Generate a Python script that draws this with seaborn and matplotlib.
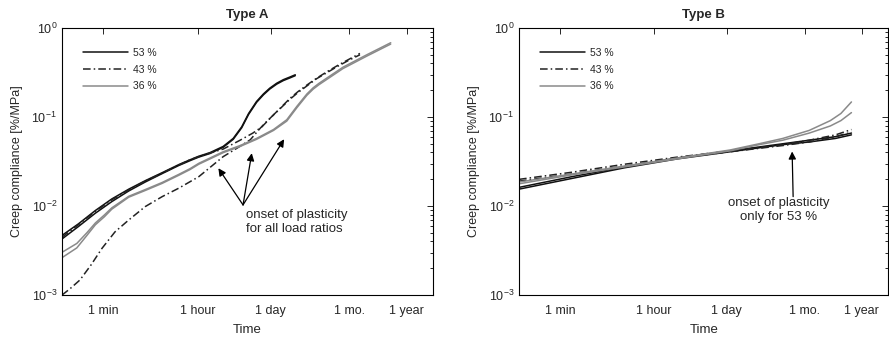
import numpy as np
import matplotlib
matplotlib.use('Agg')
import matplotlib.pyplot as plt
from matplotlib.ticker import NullLocator
import seaborn as sns

# time axis ticks (seconds) and labels
tick_seconds = [60, 3600, 86400, 2.592e6, 3.1536e7]
tick_labels = ['1 min', '1 hour', '1 day', '1 mo.', '1 year']

# ---- Type A, log10(time [s]) and log10(compliance [%/MPa]), two specimens per ratio
a53_t = [1.0, 1.31, 1.63, 1.94, 2.26, 2.57, 2.89, 3.2, 3.415, 3.58, 3.79, 4.04, 4.23, 4.39,
         4.52, 4.67, 4.8, 4.92, 5.05, 5.175, 5.3, 5.40]
a53_c1 = [-2.33, -2.20, -2.05, -1.92, -1.81, -1.715, -1.625, -1.535, -1.48, -1.44, -1.40, -1.33,
          -1.24, -1.11, -0.96, -0.825, -0.74, -0.675, -0.62, -0.58, -0.55, -0.525]
a53_c2 = [-2.37, -2.23, -2.08, -1.95, -1.83, -1.73, -1.635, -1.545, -1.49, -1.45, -1.41, -1.34,
          -1.25, -1.12, -0.97, -0.835, -0.75, -0.685, -0.63, -0.59, -0.56, -0.535]

a43_t1 = [1.0, 1.31, 1.63, 1.94, 2.26, 2.57, 2.89, 3.2, 3.415, 3.7, 4.04, 4.36, 4.6, 4.77,
          4.99, 5.15, 5.30, 5.45, 5.62, 5.8, 6.0, 6.2, 6.4, 6.62]
a43_c1 = [-2.35, -2.21, -2.06, -1.93, -1.82, -1.72, -1.63, -1.54, -1.48, -1.42, -1.36, -1.26,
          -1.18, -1.11, -0.975, -0.88, -0.79, -0.715, -0.64, -0.565, -0.49, -0.42, -0.355, -0.285]
a43_t2 = [1.0, 1.15, 1.34, 1.55, 1.755, 2.0, 2.26, 2.57, 2.89, 3.2, 3.58, 4.04, 4.3, 4.55,
          4.74, 4.86, 5.0, 5.15, 5.30, 5.45, 5.62, 5.8, 6.0, 6.2, 6.4, 6.62]
a43_c2 = [-3.0, -2.93, -2.83, -2.66, -2.475, -2.29, -2.156, -2.006, -1.894, -1.80, -1.67, -1.445,
          -1.35, -1.256, -1.125, -1.05, -0.97, -0.885, -0.80, -0.725, -0.65, -0.57, -0.50, -0.43,
          -0.365, -0.30]

a36_t = [1.0, 1.28, 1.47, 1.63, 1.8, 1.94, 2.26, 2.57, 2.89, 3.2, 3.415, 3.58, 4.04, 4.36,
         4.67, 4.99, 5.24, 5.43, 5.62, 5.74, 5.85, 6.0, 6.3, 6.75, 7.2]
a36_c1 = [-2.52, -2.42, -2.30, -2.19, -2.10, -2.02, -1.89, -1.815, -1.735, -1.645, -1.58, -1.52,
          -1.39, -1.32, -1.24, -1.14, -1.03, -0.88, -0.74, -0.67, -0.62, -0.56, -0.44, -0.30, -0.165]
a36_c2 = [-2.58, -2.47, -2.33, -2.21, -2.12, -2.035, -1.90, -1.825, -1.745, -1.655, -1.59, -1.53,
          -1.40, -1.33, -1.25, -1.15, -1.045, -0.895, -0.755, -0.685, -0.635, -0.575, -0.455,
          -0.315, -0.18]

# ---- Type B
b_t = [1.0, 2.0, 3.0, 4.0, 5.0, 5.5, 6.0, 6.5, 7.0, 7.3]
b53_c1 = [-1.81, -1.69, -1.57, -1.47, -1.39, -1.35, -1.31, -1.28, -1.24, -1.20]
b53_c2 = [-1.79, -1.67, -1.56, -1.46, -1.38, -1.34, -1.30, -1.26, -1.22, -1.18]
b43_c1 = [-1.70, -1.62, -1.53, -1.45, -1.38, -1.345, -1.31, -1.26, -1.20, -1.14]
b43_c2 = [-1.72, -1.64, -1.55, -1.46, -1.39, -1.355, -1.32, -1.28, -1.22, -1.17]
b36_t = [1.0, 2.0, 3.0, 4.0, 5.0, 5.55, 6.0, 6.5, 6.9, 7.1, 7.3]
b36_c1 = [-1.73, -1.64, -1.55, -1.46, -1.37, -1.30, -1.24, -1.15, -1.04, -0.96, -0.83]
b36_c2 = [-1.75, -1.65, -1.56, -1.47, -1.38, -1.31, -1.26, -1.18, -1.10, -1.04, -0.95]

ratios = ['53 %', '43 %', '36 %']
colors = ['#111111', '#222222', '#8a8a8a']
styles = ['-', (0, (5, 2, 1, 2)), '-']

panel_A = [[(a53_t, a53_c1), (a53_t, a53_c2)],
           [(a43_t1, a43_c1), (a43_t2, a43_c2)],
           [(a36_t, a36_c1), (a36_t, a36_c2)]]
panel_B = [[(b_t, b53_c1), (b_t, b53_c2)],
           [(b_t, b43_c1), (b_t, b43_c2)],
           [(b36_t, b36_c1), (b36_t, b36_c2)]]

sns.set_style('white')
plt.rcParams['font.family'] = ['Liberation Sans', 'DejaVu Sans']
plt.rcParams['mathtext.fontset'] = 'custom'
plt.rcParams['mathtext.rm'] = 'Liberation Sans'

fig = plt.figure(figsize=(8.89, 3.38), dpi=100)
axA = fig.add_axes([0.0697, 0.127, 0.4175, 0.79])
axB = fig.add_axes([0.5838, 0.127, 0.4155, 0.79])

for ax, panel, title in [(axA, panel_A, 'Type A'), (axB, panel_B, 'Type B')]:
    for i, specs in enumerate(panel):
        for j, (t, c) in enumerate(specs):
            sns.lineplot(x=10 ** np.array(t), y=10 ** np.array(c), ax=ax,
                         color=colors[i], linestyle=styles[i], lw=1.1,
                         label=ratios[i] if j == 0 else None)
    ax.set_xscale('log')
    ax.set_yscale('log')
    ax.set_xlim(10, 1e8)
    ax.set_ylim(1e-3, 1)
    ax.set_xticks(tick_seconds)
    ax.set_xticklabels(tick_labels)
    ax.xaxis.set_minor_locator(NullLocator())
    ax.tick_params(which='both', direction='in', top=True, right=True, labelsize=9, width=0.7)
    ax.tick_params(which='major', length=4)
    ax.tick_params(which='minor', length=2)
    ax.tick_params(axis='x', pad=7)
    for s in ax.spines.values():
        s.set_linewidth(0.8)
        s.set_color('k')
    ax.set_xlabel('Time', fontsize=9.5, labelpad=5)
    ax.set_ylabel('Creep compliance [%/MPa]', fontsize=9, labelpad=6)
    ax.set_title(title, fontsize=9.5, fontweight='bold', pad=7.5)
    ax.legend(frameon=False, loc='upper left', bbox_to_anchor=(0.058, 0.925),
              borderpad=0, borderaxespad=0, handlelength=4.3, handletextpad=0.5,
              labelspacing=0.64, fontsize=7.5)

arrow = dict(arrowstyle='-|>', color='k', lw=0.9, mutation_scale=11, shrinkA=0, shrinkB=0)
tail_A = (10 ** 4.415, 10 ** -1.987)
for tip in [(10 ** 3.95, 10 ** -1.575), (10 ** 4.58, 10 ** -1.406), (10 ** 5.19, 10 ** -1.249)]:
    axA.annotate('', xy=tip, xytext=tail_A, arrowprops=arrow)
axA.text(10 ** 4.465, 10 ** -2.03, 'onset of plasticity\nfor all load ratios',
         fontsize=9.5, ha='left', va='top', linespacing=1.25)

axB.annotate('', xy=(10 ** 6.176, 10 ** -1.387), xytext=(10 ** 6.195, 10 ** -1.894), arrowprops=arrow)
axB.text(10 ** 5.925, 10 ** -1.9, 'onset of plasticity\nonly for 53 %',
         fontsize=9.5, ha='center', va='top', linespacing=1.25)

fig.savefig('out.png', dpi=100)
